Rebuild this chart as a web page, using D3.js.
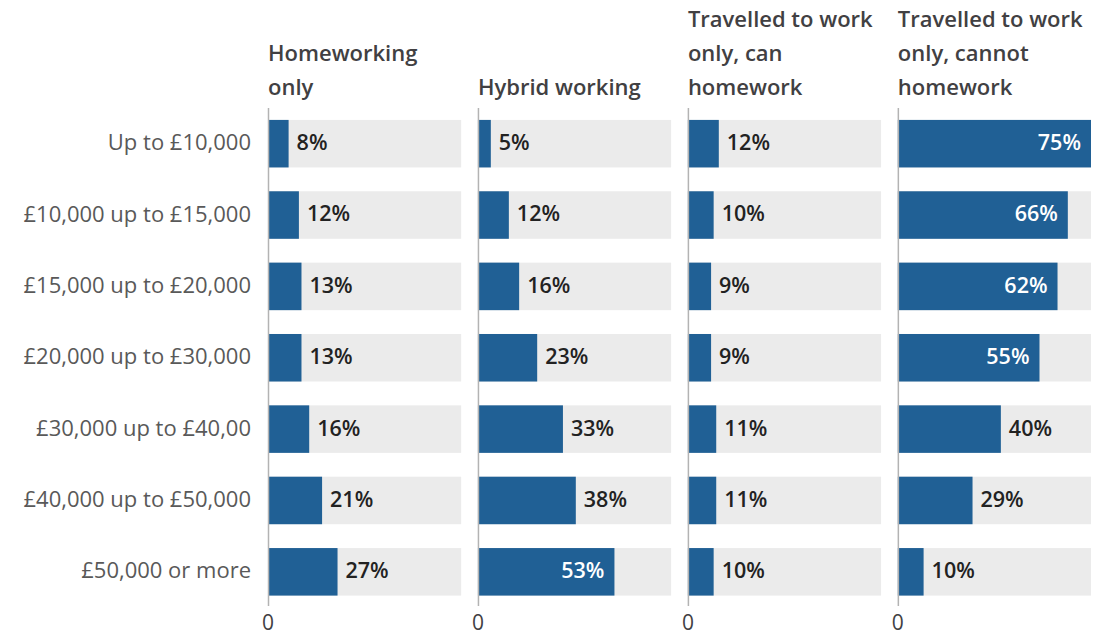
<!DOCTYPE html>
<html>
<head>
<meta charset="utf-8">
<script src="https://cdn.jsdelivr.net/npm/d3@7"></script>
<style>
  html, body { margin: 0; padding: 0; background: #fff; }
  svg { display: block; font-family: "Open Sans", sans-serif; }
</style>
</head>
<body>
<svg id="chart" width="1114" height="635"></svg>
<script>
const categories = [
  "Up to £10,000",
  "£10,000 up to £15,000",
  "£15,000 up to £20,000",
  "£20,000 up to £30,000",
  "£30,000 up to £40,00",
  "£40,000 up to £50,000",
  "£50,000 or more"
];
const seriesNames = ["Homeworking only", "Hybrid working", "Travelled to work only, can homework", "Travelled to work only, cannot homework"];
const seriesTitles = [
  ["Homeworking", "only"],
  ["Hybrid working"],
  ["Travelled to work", "only, can", "homework"],
  ["Travelled to work", "only, cannot", "homework"]
];
const homeworkingOnly = [8, 12, 13, 13, 16, 21, 27];
const hybridWorking = [5, 12, 16, 23, 33, 38, 53];
const travelledCanHomework = [12, 10, 9, 9, 11, 11, 10];
const travelledCannotHomework = [75, 66, 62, 55, 40, 29, 10];
const xTicks = [0];
const xMax = 75;

const seriesValues = [homeworkingOnly, hybridWorking, travelledCanHomework, travelledCannotHomework];

const svg = d3.select("#chart");

const panelScale = d3.scaleBand()
  .domain(d3.range(seriesNames.length))
  .range([268, 1091])
  .paddingInner(0.08)
  .paddingOuter(0);

const y = d3.scaleBand()
  .domain(categories)
  .range([108, 607.5])
  .paddingInner(0.334)
  .paddingOuter(0.167);

const x = d3.scaleLinear().domain([0, xMax]).range([0, panelScale.bandwidth()]);

// category labels
svg.append("g")
  .selectAll("text")
  .data(categories)
  .join("text")
  .attr("x", 251)
  .attr("y", d => y(d) + y.bandwidth() / 2)
  .attr("dy", "0.3em")
  .attr("text-anchor", "end")
  .attr("fill", "#595959")
  .style("font-size", "22px")
  .text(d => d);

seriesNames.forEach((name, i) => {
  const g = svg.append("g").attr("transform", `translate(${panelScale(i)},0)`);
  const vals = seriesValues[i];
  const data = categories.map((c, j) => ({ c, v: vals[j] }));

  // title lines (bottom aligned)
  const lines = seriesTitles[i];
  const lh = 33.6;
  g.append("text")
    .attr("fill", "#414042")
    .style("font-size", "22px")
    .style("font-weight", 600)
    .selectAll("tspan")
    .data(lines)
    .join("tspan")
    .attr("x", 0)
    .attr("y", (d, k) => 94.5 - (lines.length - 1 - k) * lh)
    .text(d => d);

  // background bars
  g.selectAll("rect.bg")
    .data(data)
    .join("rect")
    .attr("class", "bg")
    .attr("x", 0)
    .attr("y", d => y(d.c))
    .attr("width", x(xMax))
    .attr("height", y.bandwidth())
    .attr("fill", "#ebebeb");

  // value bars
  g.selectAll("rect.bar")
    .data(data)
    .join("rect")
    .attr("class", "bar")
    .attr("x", 0)
    .attr("y", d => y(d.c))
    .attr("width", d => x(d.v))
    .attr("height", y.bandwidth())
    .attr("fill", "#206095");

  // axis line
  g.append("line")
    .attr("x1", 0.5).attr("x2", 0.5)
    .attr("y1", y.range()[0]).attr("y2", y.range()[1] - 1.5)
    .attr("stroke", "#b3b3b3")
    .attr("stroke-width", 1.5);

  // tick labels
  g.selectAll("text.tick")
    .data(xTicks)
    .join("text")
    .attr("class", "tick")
    .attr("x", d => x(d))
    .attr("y", 630)
    .attr("text-anchor", "middle")
    .attr("fill", "#414042")
    .style("font-size", "21px")
    .text(d => d);

  // value labels
  g.selectAll("text.val")
    .data(data)
    .join("text")
    .attr("class", "val")
    .attr("x", d => d.v >= 50 ? x(d.v) - 10 : x(d.v) + 8)
    .attr("y", d => y(d.c) + y.bandwidth() / 2)
    .attr("dy", "0.3em")
    .attr("text-anchor", d => d.v >= 50 ? "end" : "start")
    .attr("fill", d => d.v >= 50 ? "#ffffff" : "#222222")
    .style("font-size", "21.5px")
    .style("font-weight", 600)
    .text(d => d.v + "%");
});
</script>
</body>
</html>
